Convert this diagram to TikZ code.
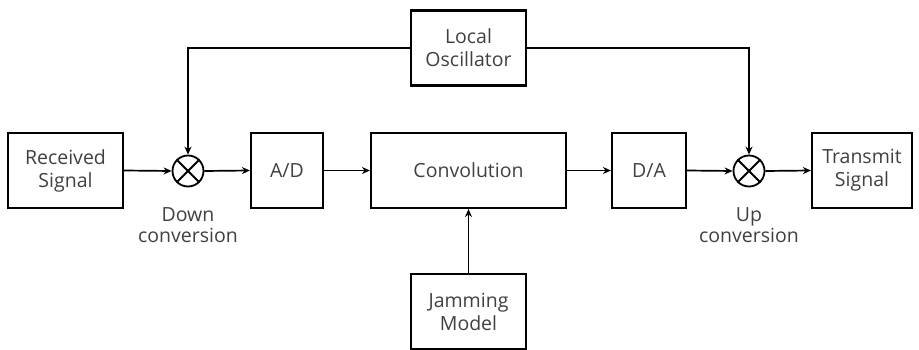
\documentclass[tikz,border=0pt]{standalone}
\usepackage{fontspec}
\setmainfont{Open Sans}
\usetikzlibrary{arrows.meta}
\definecolor{txt}{HTML}{404040}
\begin{document}
\begin{tikzpicture}[x=1pt,y=-1pt,
  blk/.style={draw=black,line width=2.1pt,minimum height=75pt,inner sep=0pt,align=center,text=txt,font=\fontsize{19.5}{23}\selectfont},
  mix/.style={draw=black,line width=1.8pt,circle,minimum size=31pt,inner sep=0pt},
  lbl/.style={text=txt,align=center,font=\fontsize{19.5}{21}\selectfont},
  conn/.style={line width=1.7pt,-{Stealth[length=8pt,width=7pt]}},
  wire/.style={line width=1.7pt}]
\useasboundingbox (0,0) rectangle (919,350);
\node[blk,minimum width=115pt] (rx) at (65.5,170.5) {Received\\Signal};
\node[mix] (m1) at (188,171) {};
\draw[line width=1.8pt] (m1.45)--(m1.225) (m1.135)--(m1.315);
\node[lbl] (dc) at (188,225) {Down\\conversion};
\node[blk,minimum width=72pt] (ad) at (287,170.5) {A/D};
\node[blk,minimum width=195pt] (cv) at (468.5,170.5) {Convolution};
\node[blk,minimum width=74pt] (da) at (649,170.5) {D/A};
\node[mix] (m2) at (749,171) {};
\draw[line width=1.8pt] (m2.45)--(m2.225) (m2.135)--(m2.315);
\node[lbl] (uc) at (749,225) {Up\\conversion};
\node[blk,minimum width=100pt] (tx) at (862,170.5) {Transmit\\Signal};
\node[blk,minimum width=115pt] (lo) at (468.5,48) {Local\\Oscillator};
\node[blk,minimum width=115pt] (jm) at (468.5,311.5) {Jamming\\Model};
\draw[conn] (rx.east) -- (m1.west);
\draw[conn] (m1.east) -- (ad.west);
\draw[conn] (ad.east) -- (cv.west);
\draw[conn] (cv.east) -- (da.west);
\draw[conn] (da.east) -- (m2.west);
\draw[conn] (m2.east) -- (tx.west);
\draw[conn] (lo.west) -| (m1.north);
\draw[conn] (lo.east) -| (m2.north);
\draw[conn] (jm.north) -- (cv.south);
\end{tikzpicture}
\end{document}
